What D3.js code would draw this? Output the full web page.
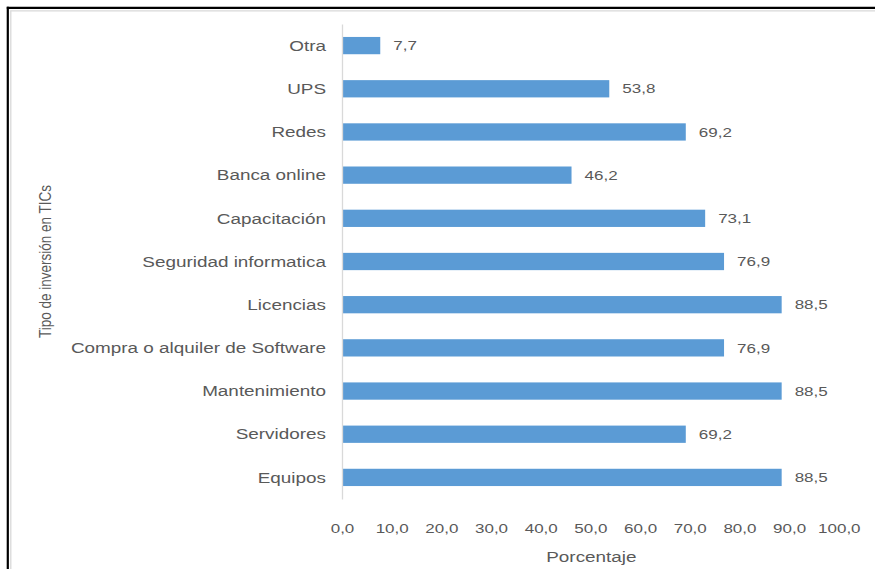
<!DOCTYPE html>
<html>
<head>
<meta charset="utf-8">
<script src="https://cdn.jsdelivr.net/npm/d3@7"></script>
<style>
  html, body { margin: 0; padding: 0; background: #fff; }
  svg { display: block; }
  text { font-family: "Liberation Sans", Arial, sans-serif; fill: #595959; }
</style>
</head>
<body>
<svg id="chart" width="875" height="569"></svg>
<script>
// Categories, top to bottom
const categories = [
  "Otra", "UPS", "Redes", "Banca online", "Capacitación",
  "Seguridad informatica", "Licencias", "Compra o alquiler de Software",
  "Mantenimiento", "Servidores", "Equipos"
];
// Percentage of firms per investment type
const values = [7.7, 53.8, 69.2, 46.2, 73.1, 76.9, 88.5, 76.9, 88.5, 69.2, 88.5];
// X-axis ticks
const xTicks = [0, 10, 20, 30, 40, 50, 60, 70, 80, 90, 100];

const xTitle = "Porcentaje";
const yTitle = "Tipo de inversión en TICs";

const W = 875, H = 569;
const plotLeft = 342, plotRight = 838.8, plotTop = 24, plotBottom = 499;
const stretch = 1.26; // horizontal glyph stretch

const es = d3.formatLocale({ decimal: ",", thousands: ".", grouping: [3], currency: ["", "€"] });
const fmt = es.format(".1f");

const svg = d3.select("#chart");

// Frame
svg.append("line").attr("x1", 7.8).attr("x2", 7.8).attr("y1", 6.8).attr("y2", H)
  .attr("stroke", "#000").attr("stroke-width", 2.2);
svg.append("line").attr("x1", 6.8).attr("x2", W).attr("y1", 7.8).attr("y2", 7.8)
  .attr("stroke", "#000").attr("stroke-width", 2.2);
svg.append("line").attr("x1", 10.8).attr("x2", 10.8).attr("y1", 10.5).attr("y2", H)
  .attr("stroke", "#D9D9D9").attr("stroke-width", 1.3);
svg.append("line").attr("x1", 10.2).attr("x2", W).attr("y1", 10.8).attr("y2", 10.8)
  .attr("stroke", "#D9D9D9").attr("stroke-width", 1.3);

const x = d3.scaleLinear().domain([0, 100]).range([plotLeft, plotRight]);
const y = d3.scaleBand().domain(categories).range([plotTop, plotBottom]).paddingInner(0.6).paddingOuter(0.3);

// Bars
svg.append("g").selectAll("rect")
  .data(categories)
  .join("rect")
  .attr("x", x(0))
  .attr("y", d => y(d))
  .attr("width", (d, i) => x(values[i]) - x(0))
  .attr("height", y.bandwidth())
  .attr("fill", "#5B9BD5");

// Value labels
svg.append("g").selectAll("text")
  .data(categories)
  .join("text")
  .attr("transform", (d, i) => `translate(${x(values[i]) + 13},${y(d) + y.bandwidth() / 2}) scale(${stretch},1)`)
  .attr("dy", "0.35em")
  .style("font-size", "13.5px")
  .text((d, i) => fmt(values[i]));

// Category axis
const yAxis = svg.append("g")
  .attr("transform", `translate(${plotLeft},0)`)
  .call(d3.axisLeft(y).tickSize(0).tickPadding(16));
yAxis.select(".domain").attr("stroke", "#D9D9D9").attr("stroke-width", 1.3);
yAxis.selectAll(".tick text")
  .attr("x", null)
  .attr("transform", `translate(-16,0) scale(${stretch},1)`)
  .attr("dy", "0.35em")
  .style("font-size", "15px")
  .style("font-family", "'Liberation Sans', Arial, sans-serif")
  .attr("fill", "#595959");

// Value axis (labels only)
const xAxis = svg.append("g")
  .attr("transform", `translate(0,${plotBottom})`)
  .call(d3.axisBottom(x).tickValues(xTicks).tickSize(0).tickPadding(0).tickFormat(fmt));
xAxis.select(".domain").remove();
xAxis.selectAll(".tick text")
  .attr("y", null)
  .attr("dy", "0.35em")
  .attr("transform", `translate(0,29) scale(${stretch},1)`)
  .style("font-size", "13.5px")
  .style("font-family", "'Liberation Sans', Arial, sans-serif")
  .attr("fill", "#595959");

// Axis titles
svg.append("text")
  .attr("transform", `translate(${(plotLeft + plotRight) / 2 + 1},556.5) scale(${stretch},1)`)
  .attr("text-anchor", "middle")
  .attr("dy", "0.35em")
  .style("font-size", "15px")
  .text(xTitle);

svg.append("text")
  .attr("transform", `translate(45,${(plotTop + plotBottom) / 2}) scale(${stretch},1) rotate(-90)`)
  .attr("text-anchor", "middle")
  .attr("dy", "0.35em")
  .style("font-size", "13.5px")
  .text(yTitle);
</script>
</body>
</html>
